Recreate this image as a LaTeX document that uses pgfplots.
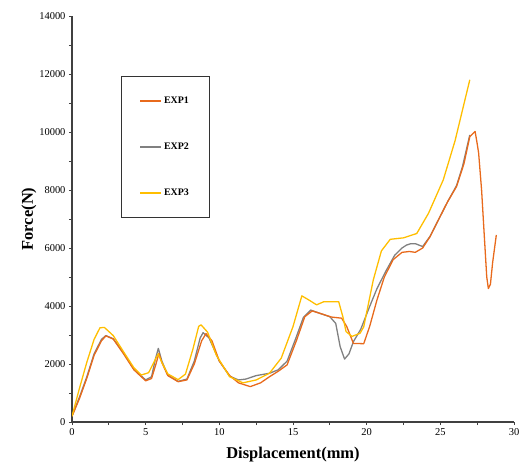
\documentclass[border=0pt]{standalone}
\usepackage{pgfplots}
\pgfplotsset{compat=1.18}
\usepackage{fontspec}
\setmainfont{Liberation Serif}
\usetikzlibrary{calc}
\definecolor{cA}{RGB}{232,106,28}
\definecolor{cB}{RGB}{128,128,128}
\definecolor{cC}{RGB}{255,190,0}
\begin{document}
\begin{tikzpicture}
\begin{axis}[
  scale only axis, width=442bp, height=406bp,
  xmin=0, xmax=30, ymin=0, ymax=14000,
  axis lines=left, axis line style={-, black!75, line width=1.1pt},
  xtick={0,5,...,30}, ytick={0,2000,...,14000},
  minor tick num=1,
  tick align=outside, major tick length=3bp, minor tick length=3bp,
  tick style={black!75, line width=0.8pt},
  scaled y ticks=false,
  /pgf/number format/set thousands separator={},
  /pgf/number format/assume math mode=true,
  ticklabel style={font=\fontsize{10.5}{12}\selectfont},
  xlabel={Displacement(mm)}, ylabel={Force(N)},
  label style={font=\fontsize{16.5}{19}\selectfont\bfseries},
  xlabel style={yshift=-5bp},
  ylabel style={yshift=-4bp},
  legend style={name=leg, at={(axis cs:3.33,11900)}, anchor=north west, draw=none,
    inner xsep=18bp, inner ysep=18bp, row sep=34bp,
    font=\fontsize{10}{11}\selectfont\bfseries},
  legend cell align=left,
  legend image code/.code={\draw[#1] (0bp,0bp) -- (21bp,0bp);},
  every axis plot/.append style={line width=1.3pt, line join=round},
]
\coordinate (ll) at (rel axis cs:0,0);
\coordinate (ur) at (rel axis cs:1,1);
\addlegendimage{draw=cA, line width=1.8pt}
\addlegendimage{draw=cB, line width=1.8pt}
\addlegendimage{draw=cC, line width=1.8pt}
\addplot[draw=cB, forget plot] coordinates {
(0,200) (0.5,850) (1.0,1550) (1.5,2350) (2.0,2850) (2.3,2980) (2.8,2870) (3.5,2380) (4.2,1820) (5.0,1450) (5.4,1560)
(5.65,2150) (5.86,2540) (6.1,2100) (6.5,1620) (7.2,1400) (7.8,1480) (8.3,2100) (8.7,2900) (8.9,3080) (9.3,2900)
(10.0,2100) (10.7,1580) (11.3,1450) (11.8,1480) (12.5,1600) (13.4,1680) (14.0,1800) (14.6,2100) (15.2,2900)
(15.7,3600) (16.2,3860) (16.8,3750) (17.5,3630) (17.9,3400) (18.2,2600) (18.5,2170) (18.8,2350) (19.1,2770)
(19.6,3200) (20.2,3980) (20.7,4600) (21.3,5200) (21.9,5750) (22.4,6000) (22.7,6100) (23.0,6150) (23.3,6150)
(23.8,6050) (24.3,6400) (25.0,7100) (25.5,7600) (26.1,8150) (26.5,8800) (27.0,9900)
};
\addplot[draw=cA, forget plot] coordinates {
(0,200) (0.5,800) (1.0,1500) (1.5,2300) (2.0,2800) (2.3,2970) (2.8,2860) (3.5,2350) (4.2,1800) (5.0,1420)
(5.4,1500) (5.7,2000) (5.9,2370) (6.1,2050) (6.5,1600) (7.2,1390) (7.8,1450) (8.3,2000) (8.8,2800) (9.1,3050)
(9.5,2800) (10.0,2100) (10.7,1600) (11.3,1350) (12.1,1220) (12.8,1350) (13.4,1560) (14.0,1750) (14.6,1970)
(15.25,2830) (15.8,3630) (16.3,3830) (17.0,3720) (17.6,3620) (18.3,3580) (18.65,3290) (19.1,2710) (19.8,2700)
(20.2,3290) (20.7,4210) (21.2,5000) (21.8,5600) (22.4,5850) (22.9,5880) (23.3,5850) (23.8,6000) (24.3,6390)
(25.0,7100) (25.5,7600) (26.1,8120) (26.6,8900) (27.0,9840) (27.36,10020) (27.5,9600) (27.6,9270) (27.8,8000)
(28.0,6280) (28.15,5000) (28.26,4600) (28.4,4750) (28.55,5500) (28.8,6450)
};
\addplot[draw=cC, forget plot] coordinates {
(0,200) (0.5,1150) (1.0,2050) (1.5,2850) (1.9,3250) (2.2,3260) (2.8,2980) (3.5,2420) (4.2,1870) (4.7,1620)
(5.2,1700) (5.6,2100) (5.85,2350) (6.1,2050) (6.5,1660) (7.2,1460) (7.7,1650) (8.2,2500) (8.6,3300) (8.76,3350)
(9.2,3100) (9.8,2300) (10.7,1560) (11.6,1350) (12.5,1450) (13.4,1680) (14.2,2200) (15.0,3290) (15.6,4350)
(16.1,4200) (16.6,4040) (17.1,4150) (17.5,4150) (18.1,4150) (18.4,3600) (18.6,3120) (19.0,2950) (19.55,3060)
(19.8,3280) (20.45,4900) (21.0,5900) (21.6,6300) (22.5,6350) (23.4,6500) (24.2,7200) (25.2,8350) (26.0,9700)
(27.0,11800)
};
\legend{EXP1,EXP2,EXP3}
\end{axis}
\draw[black!80, line width=0.8pt] (leg.south west) rectangle (leg.north east);
\pgfresetboundingbox
\path[use as bounding box] ($(ll)+(-72bp,-43bp)$) rectangle ($(ur)+(13bp,16bp)$);
\end{tikzpicture}
\end{document}
